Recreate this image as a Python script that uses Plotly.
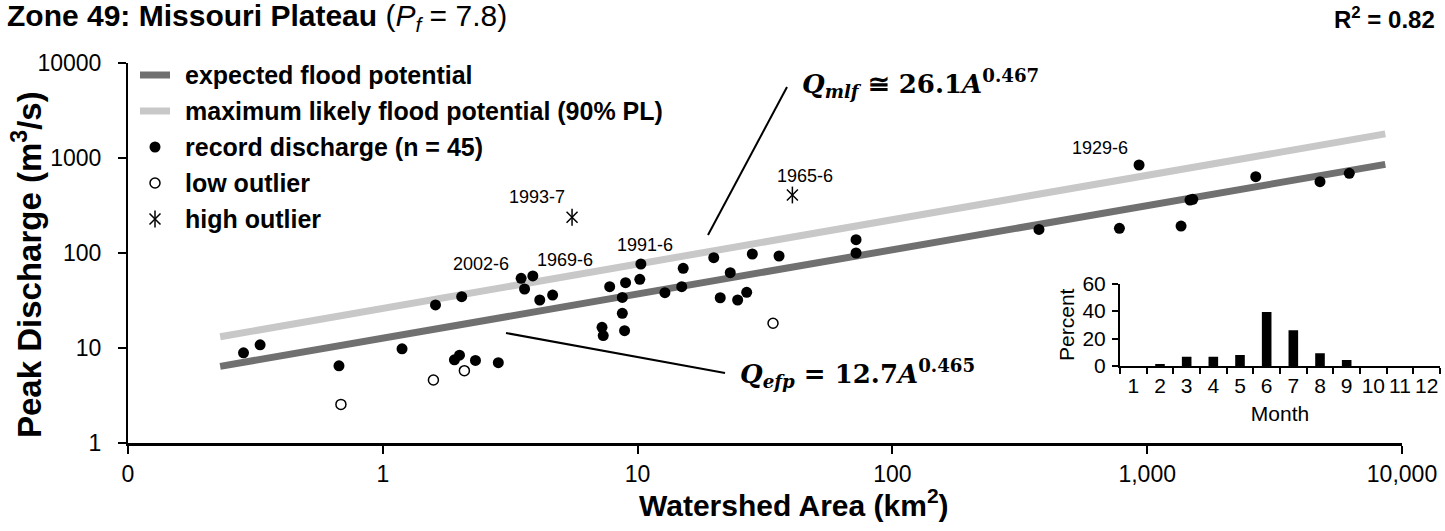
import numpy as np
import plotly.graph_objects as go

# ---------------- data ----------------
record_area = [0.284, 0.330, 0.673, 1.19, 1.61, 2.04, 1.91, 2.00, 2.31, 2.84,
               3.49, 3.88, 3.60, 4.13, 4.64, 7.77, 7.25, 7.33, 8.97, 8.71,
               8.71, 8.89, 10.3, 10.2, 12.8, 15.1, 14.9, 19.9, 23.1, 21.1,
               24.7, 26.8, 28.2, 35.9, 72.0, 72.0, 376, 778, 929, 1358,
               1472, 1510, 2667, 4766, 6210]
record_q = [8.9, 10.8, 6.5, 9.8, 28.4, 34.7, 7.5, 8.4, 7.4, 7.0,
            54.2, 57.3, 41.8, 32.0, 36.1, 44.2, 16.5, 13.5, 48.7, 34.1,
            23.2, 15.2, 76.6, 52.9, 38.2, 69.0, 44.2, 89.3, 62.0, 33.8,
            32.0, 38.6, 97.6, 93.0, 138, 100, 177, 182, 844, 192,
            361, 367, 636, 563, 690]
low_area = [0.685, 1.58, 2.09, 34.0]
low_q = [2.55, 4.6, 5.77, 18.2]
high_area = [5.53, 40.5]
high_q = [238, 408]
high_labels = ["1993-7", "1965-6"]
record_label_index = [10, 11, 22, 38]
record_labels = ["2002-6", "1969-6", "1991-6", "1929-6"]

efp_coef, efp_exp = 12.7, 0.465
mlf_coef, mlf_exp = 26.1, 0.467
fit_area_range = [0.23, 8600]

months = list(range(1, 13))
month_pct = [0, 1.5, 6.7, 6.7, 8.0, 39.3, 26.0, 9.2, 4.3, 0, 0, 0]

x_tickvals = [0.1, 1, 10, 100, 1000, 10000]
x_ticktext = ["0", "1", "10", "100", "1,000", "10,000"]
y_tickvals = [1, 10, 100, 1000, 10000]
y_ticktext = ["1", "10", "100", "1000", "10000"]

# ---------------- layout helpers ----------------
W, H = 1445, 531
ML, MR, MT, MB = 128, 5, 63, 88
PW = W - ML - MR
PH = H - MT - MB


def px(x):
    return (x - ML) / PW


def py(y):
    return (H - MB - y) / PH


FONT = "Arial, 'Liberation Sans', sans-serif"
SERIF = "'DejaVu Serif', 'Liberation Serif', serif"
DARK = "#707070"
LIGHT = "#c8c8c8"

fa = np.array(fit_area_range)
efp_q = efp_coef * fa ** efp_exp
mlf_q = mlf_coef * fa ** mlf_exp

fig = go.Figure()

# fitted lines
fig.add_trace(go.Scatter(x=fa, y=mlf_q, mode="lines",
                         line=dict(color=LIGHT, width=7), showlegend=False))
fig.add_trace(go.Scatter(x=fa, y=efp_q, mode="lines",
                         line=dict(color=DARK, width=7), showlegend=False))
# record discharge
fig.add_trace(go.Scatter(x=record_area, y=record_q, mode="markers",
                         marker=dict(color="black", size=11), showlegend=False))
# low outliers
fig.add_trace(go.Scatter(x=low_area, y=low_q, mode="markers",
                         marker=dict(color="white", size=10, symbol="circle",
                                     line=dict(color="black", width=1.5)),
                         showlegend=False))
# high outliers (x + vertical bar)
fig.add_trace(go.Scatter(x=high_area, y=high_q, mode="markers",
                         marker=dict(color="black", size=11, symbol="x-thin-open",
                                     line=dict(color="black", width=1.5)),
                         showlegend=False))
fig.add_trace(go.Scatter(x=high_area, y=high_q, mode="markers",
                         marker=dict(color="black", size=12, symbol="line-ns-open",
                                     line=dict(color="black", width=1.5)),
                         showlegend=False))

# inset bar chart
fig.add_trace(go.Bar(x=months, y=month_pct, xaxis="x2", yaxis="y2",
                     marker=dict(color="black", line=dict(width=0)),
                     width=0.36, showlegend=False))

# ---------------- manual legend on a pixel overlay ----------------
leg_rows = [75, 111, 147, 183, 219]
leg_text = ["expected flood potential",
            "maximum likely flood potential (90% PL)",
            "record discharge (n = 45)",
            "low outlier",
            "high outlier"]
fig.add_trace(go.Scatter(x=[140, 170], y=[leg_rows[0]] * 2, mode="lines",
                         line=dict(color=DARK, width=7), xaxis="x3", yaxis="y3",
                         showlegend=False))
fig.add_trace(go.Scatter(x=[140, 170], y=[leg_rows[1]] * 2, mode="lines",
                         line=dict(color=LIGHT, width=7), xaxis="x3", yaxis="y3",
                         showlegend=False))
fig.add_trace(go.Scatter(x=[155], y=[leg_rows[2]], mode="markers",
                         marker=dict(color="black", size=11),
                         xaxis="x3", yaxis="y3", showlegend=False))
fig.add_trace(go.Scatter(x=[155], y=[leg_rows[3]], mode="markers",
                         marker=dict(color="white", size=10,
                                     line=dict(color="black", width=1.5)),
                         xaxis="x3", yaxis="y3", showlegend=False))
fig.add_trace(go.Scatter(x=[155], y=[leg_rows[4]], mode="markers",
                         marker=dict(color="black", size=11, symbol="x-thin-open",
                                     line=dict(color="black", width=1.5)),
                         xaxis="x3", yaxis="y3", showlegend=False))
fig.add_trace(go.Scatter(x=[155], y=[leg_rows[4]], mode="markers",
                         marker=dict(color="black", size=12, symbol="line-ns-open",
                                     line=dict(color="black", width=1.5)),
                         xaxis="x3", yaxis="y3", showlegend=False))

annotations = []
for r, t in zip(leg_rows, leg_text):
    annotations.append(dict(x=183, y=r, xref="x3", yref="y3", text="<b>%s</b>" % t,
                            showarrow=False, xanchor="left", yanchor="middle",
                            font=dict(family=FONT, size=25, color="black")))

# point labels
label_shift = {"2002-6": (-40, 14), "1969-6": (32, 16), "1991-6": (4, 19), "1929-6": (-39, 17)}
for i, lab in zip(record_label_index, record_labels):
    sh = label_shift[lab]
    annotations.append(dict(x=np.log10(record_area[i]), y=np.log10(record_q[i]),
                            xref="x", yref="y", text=lab, showarrow=False,
                            xshift=sh[0], yshift=sh[1],
                            font=dict(family=FONT, size=18, color="black")))
for a, q, lab, sh in zip(high_area, high_q, high_labels, [(-35, 20), (13, 19)]):
    annotations.append(dict(x=np.log10(a), y=np.log10(q), xref="x", yref="y",
                            text=lab, showarrow=False, xshift=sh[0], yshift=sh[1],
                            font=dict(family=FONT, size=18, color="black")))

# equations
annotations.append(dict(x=800, y=83, xref="x3", yref="y3", showarrow=False,
                        xanchor="left", yanchor="middle",
                        text="<b><i>Q</i><sub><i>mlf</i></sub> \u2245 26.1<i>A</i><sup>0.467</sup></b>",
                        font=dict(family=SERIF, size=26, color="black")))
annotations.append(dict(x=738, y=373, xref="x3", yref="y3", showarrow=False,
                        xanchor="left", yanchor="middle",
                        text="<b><i>Q</i><sub><i>efp</i></sub> = 12.7<i>A</i><sup>0.465</sup></b>",
                        font=dict(family=SERIF, size=26, color="black")))

# title, R2, axis titles
annotations.append(dict(x=px(5), y=py(18), xref="paper", yref="paper", showarrow=False,
                        xanchor="left", yanchor="middle",
                        text="<b>Zone 49: Missouri Plateau</b> (<i>P<sub>f</sub></i> = 7.8)",
                        font=dict(family=FONT, size=30, color="black")))
annotations.append(dict(x=px(1437), y=py(18), xref="paper", yref="paper", showarrow=False,
                        xanchor="right", yanchor="middle",
                        text="<b>R<sup>2</sup> = 0.82</b>",
                        font=dict(family=FONT, size=24, color="black")))
annotations.append(dict(x=px(794), y=py(503), xref="paper", yref="paper", showarrow=False,
                        xanchor="center", yanchor="middle",
                        text="<b>Watershed Area (km<sup>2</sup>)</b>",
                        font=dict(family=FONT, size=30, color="black")))
annotations.append(dict(x=px(27), y=py(265), xref="paper", yref="paper", showarrow=False,
                        xanchor="center", yanchor="middle", textangle=-90,
                        text="<b>Peak Discharge (m<sup>3</sup>/s)</b>",
                        font=dict(family=FONT, size=33, color="black")))

shapes = [
    dict(type="line", xref="x3", yref="y3", x0=708, y0=235, x1=787, y1=87,
         line=dict(color="black", width=2)),
    dict(type="line", xref="x3", yref="y3", x0=506, y0=333, x1=725, y1=373,
         line=dict(color="black", width=2)),
]

axis_font = dict(family=FONT, size=23, color="black")
inset_font = dict(family=FONT, size=21, color="black")

fig.update_layout(
    width=W, height=H, autosize=False,
    margin=dict(l=ML, r=MR, t=MT, b=MB, pad=0, autoexpand=False),
    paper_bgcolor="white", plot_bgcolor="rgba(0,0,0,0)",
    hovermode=False, showlegend=False,
    annotations=annotations, shapes=shapes,
    xaxis=dict(type="log", range=[-1, 4], domain=[0, px(1402)], anchor="y",
               automargin=False,
               showline=True, linecolor="black", linewidth=3,
               ticks="outside", ticklen=8, tickwidth=2, tickcolor="black",
               tickvals=x_tickvals, ticktext=x_ticktext, tickfont=axis_font,
               ticklabelstandoff=0,
               showgrid=False, zeroline=False),
    yaxis=dict(type="log", range=[0, 4], domain=[0, 1], anchor="x",
               automargin=False,
               showline=True, linecolor="black", linewidth=2,
               ticks="outside", ticklen=8, tickwidth=2, tickcolor="black",
               tickvals=y_tickvals, ticktext=y_ticktext, tickfont=axis_font,
               ticklabelstandoff=12,
               showgrid=False, zeroline=False),
    xaxis2=dict(domain=[px(1120), px(1440)], anchor="y2", range=[0.5, 12.5],
                automargin=False,
                showline=True, linecolor="black", linewidth=2,
                tickmode="array", tickvals=months, ticktext=[str(m) for m in months],
                ticks="", tickfont=inset_font, ticklabelstandoff=0,
                minor=dict(tickmode="array", tickvals=[m - 0.5 for m in months] + [12.5],
                           ticks="outside", ticklen=6, tickwidth=2, tickcolor="black",
                           showgrid=False),
                title=dict(text="Month", font=inset_font, standoff=10),
                showgrid=False, zeroline=False),
    yaxis2=dict(domain=[py(366), py(283.5)], anchor="x2", range=[0, 60],
                automargin=False,
                showline=True, linecolor="black", linewidth=2,
                tickvals=[0, 20, 40, 60], ticks="outside", ticklen=6, tickwidth=2,
                tickcolor="black", tickfont=inset_font, ticklabelstandoff=2,
                title=dict(text="Percent", font=inset_font, standoff=2),
                showgrid=False, zeroline=False),
    xaxis3=dict(domain=[0, 1], range=[ML, W - MR], anchor="y3", visible=False,
                automargin=False, fixedrange=True),
    yaxis3=dict(domain=[0, 1], range=[H - MB, MT], anchor="x3", visible=False,
                automargin=False, fixedrange=True),
)

post = ("document.body.style.margin='0';document.body.style.padding='0';"
        "document.documentElement.style.overflow='hidden';"
        "document.body.style.overflow='hidden';")

fig.write_html("out.html", config={"responsive": False, "displayModeBar": False},
               post_script=post)
